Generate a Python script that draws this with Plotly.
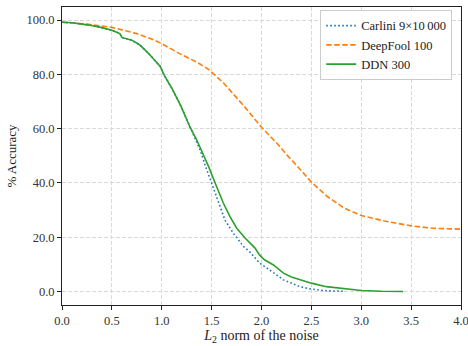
import plotly.graph_objects as go

# Carlini 9x10000 (blue dotted)
carlini_x = [0.0, 0.1, 0.2, 0.3, 0.4, 0.5, 0.58, 0.6, 0.7, 0.78, 0.88, 0.985, 1.02, 1.11, 1.195, 1.28,
             1.32, 1.386, 1.44, 1.50, 1.567, 1.633, 1.717, 1.82, 1.88, 1.98, 2.08, 2.22, 2.385, 2.5,
             2.65, 2.83]
carlini_y = [99.2, 99.0, 98.5, 98.0, 97.2, 96.2, 95.0, 93.6, 92.6, 90.8, 87.2, 82.9, 80.0, 74.3, 68.1, 60.8,
             57.0, 52.0, 46.0, 40.0, 32.6, 26.4, 21.5, 16.6, 14.7, 10.5, 8.0, 4.3, 1.8, 0.9,
             0.3, 0.1]

# DeepFool 100 (orange dashed)
deepfool_x = [0.0, 0.25, 0.5, 0.75, 0.92, 1.0, 1.17, 1.37, 1.47, 1.62, 1.82, 2.0, 2.17, 2.25, 2.4, 2.5,
              2.66, 2.83, 3.0, 3.23, 3.5, 3.72, 4.0]
deepfool_y = [99.2, 98.5, 97.3, 95.0, 92.7, 91.3, 87.8, 84.1, 81.8, 76.8, 68.5, 60.5, 54.0, 50.5, 44.5, 40.3,
              35.0, 30.7, 28.0, 26.0, 24.2, 23.3, 23.0]

# DDN 300 (green solid)
ddn_x = [0.0, 0.1, 0.2, 0.3, 0.4, 0.5, 0.58, 0.6, 0.7, 0.78, 0.88, 0.985, 1.02, 1.11, 1.195, 1.28,
         1.35, 1.41, 1.47, 1.535, 1.617, 1.684, 1.75, 1.835, 1.935, 1.98, 2.03, 2.12, 2.22, 2.3,
         2.385, 2.5, 2.65, 2.82, 3.0, 3.2, 3.42]
ddn_y = [99.2, 99.0, 98.5, 98.0, 97.2, 96.2, 95.0, 93.6, 92.6, 90.8, 87.2, 82.9, 80.0, 74.3, 68.1, 60.8,
         55.9, 51.0, 46.0, 40.0, 32.6, 27.6, 23.4, 19.7, 16.0, 13.5, 11.7, 9.8, 6.8, 5.4,
         4.3, 3.1, 1.8, 1.0, 0.4, 0.1, 0.0]

x_ticks = [0.0, 0.5, 1.0, 1.5, 2.0, 2.5, 3.0, 3.5, 4.0]
y_ticks = [0.0, 20.0, 40.0, 60.0, 80.0, 100.0]

FONT = "Liberation Serif"

fig = go.Figure()
fig.add_trace(go.Scatter(x=carlini_x, y=carlini_y, mode="lines", name="Carlini 9×10\u2009000",
                         line=dict(color="#1f77b4", width=1.6, dash="1.6px,2.4px")))
fig.add_trace(go.Scatter(x=deepfool_x, y=deepfool_y, mode="lines", name="DeepFool 100",
                         line=dict(color="#ff7f0e", width=1.6, dash="5.5px,2.5px")))
fig.add_trace(go.Scatter(x=ddn_x, y=ddn_y, mode="lines", name="DDN 300",
                         line=dict(color="#2ca02c", width=1.6)))

axis_common = dict(
    showgrid=True, gridcolor="#d9d9d9", griddash="4px,2px", gridwidth=1,
    zeroline=False, showline=True, linecolor="#222", linewidth=1, mirror=True,
    ticks="outside", ticklen=4, tickcolor="#222", tickwidth=1, automargin=False,
    ticklabeloverflow="allow",
    tickfont=dict(family=FONT, size=12.5, color="#333"),
)

fig.update_xaxes(range=[0, 4], tickvals=x_ticks, ticktext=[f"{v:.1f}" for v in x_ticks],
                 title=dict(text="<i>L</i><sub>2</sub> norm of the noise",
                            font=dict(family=FONT, size=14, color="#222"), standoff=1),
                 **axis_common)
fig.update_yaxes(range=[-4.95, 104.8], tickvals=y_ticks, ticktext=[f"{v:.1f}" for v in y_ticks],
                 title=dict(text="% Accuracy", font=dict(family=FONT, size=13, color="#222"), standoff=6),
                 **axis_common)

fig.update_layout(
    width=468, height=346,
    margin=dict(l=62, r=7, t=7, b=41),
    paper_bgcolor="white", plot_bgcolor="white",
    font=dict(family=FONT, size=13, color="#222"),
    legend=dict(x=0.978, y=0.99, xanchor="right", yanchor="top",
                bgcolor="rgba(255,255,255,0.85)", bordercolor="#cccccc", borderwidth=1,
                font=dict(family=FONT, size=12.5, color="#222"), tracegroupgap=0),
    showlegend=True,
)

fig.write_html("out.html", config={"displayModeBar": False},
               post_script="document.body.style.margin='0';")
